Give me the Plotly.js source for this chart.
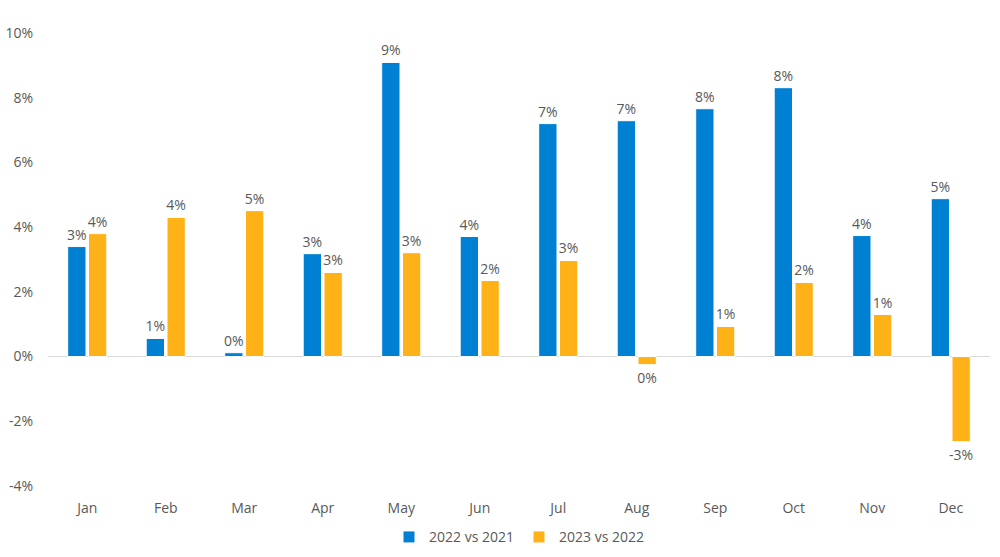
<!DOCTYPE html>
<html>
<head>
<meta charset="utf-8">
<script src="https://cdn.plot.ly/plotly-3.0.1.min.js"></script>
<style>html,body{margin:0;padding:0;background:#fff;}#chart{width:1000px;height:557px;}</style>
</head>
<body>
<div id="chart"></div>
<script>
const months = ["Jan","Feb","Mar","Apr","May","Jun","Jul","Aug","Sep","Oct","Nov","Dec"];
const series1Name = "2022 vs 2021";
const series2Name = "2023 vs 2022";
const values2022 = [3.40, 0.56, 0.12, 3.18, 9.09, 3.71, 7.20, 7.29, 7.66, 8.31, 3.74, 4.88];
const values2023 = [3.80, 4.30, 4.51, 2.60, 3.21, 2.35, 2.97, -0.25, 0.93, 2.29, 1.30, -2.63];
const yTicks = [-4, -2, 0, 2, 4, 6, 8, 10];

function label(v){ const r = Math.round(v); return (r === 0 ? 0 : r) + "%"; }

const font = {family: "'Open Sans', 'Noto Sans', sans-serif", size: 14, color: "#595959"};

const traces = [
  {type: "bar", name: series1Name, x: months, y: values2022,
   marker: {color: "#0080D2", line: {color: "#ffffff", width: 1}},
   text: values2022.map(label), textposition: "outside", cliponaxis: false,
   constraintext: "none", textfont: font, hoverinfo: "x+y"},
  {type: "bar", name: series2Name, x: months, y: values2023,
   marker: {color: "#FFB217", line: {color: "#ffffff", width: 1}},
   text: values2023.map(label), textposition: "outside", cliponaxis: false,
   constraintext: "none", textfont: font, hoverinfo: "x+y"}
];

const layout = {
  width: 1000, height: 557,
  margin: {l: 48, r: 10, t: 33, b: 71, autoexpand: false},
  paper_bgcolor: "#ffffff", plot_bgcolor: "#ffffff",
  font: font,
  barmode: "group", bargap: 0.47, bargroupgap: 0.12,
  showlegend: true,
  legend: {orientation: "h", x: 0.5, xanchor: "center", y: -0.078, yanchor: "top",
           font: font, itemwidth: 30, tracegroupgap: 0},
  xaxis: {showgrid: false, showline: false, zeroline: false, ticks: "",
          tickfont: font, automargin: false, ticklabelstandoff: 12},
  yaxis: {range: [-4, 10], tickvals: yTicks, ticktext: yTicks.map(v => v + "%"),
          showgrid: false, showline: false, zeroline: true, zerolinecolor: "#D9D9D9",
          zerolinewidth: 1, ticks: "", tickfont: font, ticklabelstandoff: 14, automargin: false}
};

Plotly.newPlot("chart", traces, layout, {displayModeBar: false, responsive: false});
</script>
</body>
</html>
